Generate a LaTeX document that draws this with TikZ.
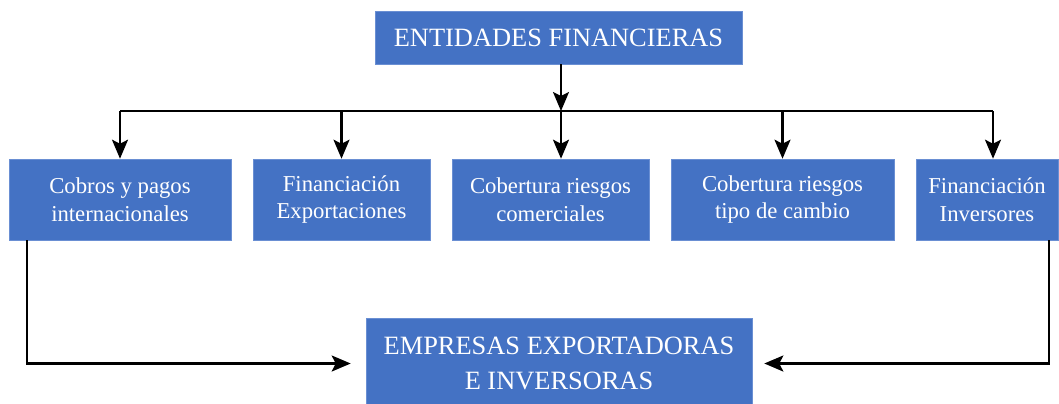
\documentclass[tikz,border=0pt]{standalone}
\usepackage{fontspec}
\setmainfont{Liberation Serif}
\usetikzlibrary{arrows.meta,calc}
\definecolor{boxblue}{HTML}{4472C4}
\definecolor{boxedge}{HTML}{6A8FD3}
\begin{document}
\begin{tikzpicture}[x=1bp,y=-1bp,
  box/.style={draw=boxedge,line width=0.6bp,fill=boxblue,text=white,align=center,inner sep=0pt},
  rowbox/.style={box,font=\fontsize{22.8}{28}\selectfont,minimum height=81bp},
  capbox/.style={box,font=\fontsize{26.5}{35}\selectfont},
  conn/.style={line width=2.2bp,black},
  arr/.style={conn,-{Stealth[length=19bp,width=16bp,inset=4bp]}}]
\useasboundingbox (0,0) rectangle (1059,403);
\node[capbox,minimum width=367bp,minimum height=53bp] (top) at (558.5,37.5) {ENTIDADES FINANCIERAS};
\node[rowbox,minimum width=222bp] (b1) at (120,199.5) {Cobros y pagos\\internacionales};
\node[rowbox,minimum width=177bp] (b2) at (341.5,199.5) {Financiación\\Exportaciones};
\node[rowbox,minimum width=197bp] (b3) at (550.5,199.5) {Cobertura riesgos\\comerciales};
\node[rowbox,minimum width=223bp] (b4) at (782.5,199.5) {Cobertura riesgos\\tipo de cambio};
\node[rowbox,minimum width=142bp] (b5) at (987,199.5) {Financiación\\Inversores};
\node[capbox,minimum width=386bp,minimum height=91bp] (bot) at (559,363.5) {EMPRESAS EXPORTADORAS\\E INVERSORAS};
\coordinate (bus) at (561,111);
\coordinate (busL) at (120,111);
\coordinate (busR) at (993,111);
\draw[arr] (bus |- top.south) -- (bus);
\draw[conn] (busL) -- (busR);
\draw[arr] (busL) -- (busL |- b1.north);
\draw[arr] (b2.north |- bus) -- (b2.north);
\draw[arr] (bus) -- (bus |- b3.north);
\draw[arr] (b4.north |- bus) -- (b4.north);
\draw[arr] (busR) -- (busR |- b5.north);
\draw[arr] ([xshift=18bp]b1.south west) |- ([xshift=-15bp]bot.west);
\draw[arr] ([xshift=-9bp]b5.south east) |- ([xshift=12bp]bot.east);
\end{tikzpicture}
\end{document}
